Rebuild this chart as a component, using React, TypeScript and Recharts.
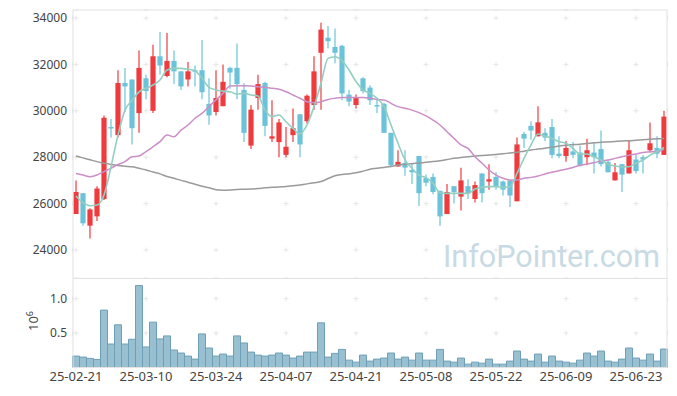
import React from 'react';
import { ComposedChart, Bar, Line, XAxis, YAxis, CartesianGrid } from 'recharts';

const dates = [
  '25-02-21', '25-02-24', '25-02-25', '25-02-26', '25-02-27', '25-02-28', '25-03-04', '25-03-05', '25-03-06', '25-03-07',
  '25-03-10', '25-03-11', '25-03-12', '25-03-13', '25-03-14', '25-03-17', '25-03-18', '25-03-19', '25-03-20', '25-03-21',
  '25-03-24', '25-03-25', '25-03-26', '25-03-27', '25-03-28', '25-03-31', '25-04-01', '25-04-02', '25-04-03', '25-04-04',
  '25-04-07', '25-04-08', '25-04-09', '25-04-10', '25-04-11', '25-04-14', '25-04-15', '25-04-16', '25-04-17', '25-04-18',
  '25-04-21', '25-04-22', '25-04-23', '25-04-24', '25-04-25', '25-04-28', '25-04-29', '25-04-30', '25-05-02', '25-05-07',
  '25-05-08', '25-05-09', '25-05-12', '25-05-13', '25-05-14', '25-05-15', '25-05-16', '25-05-19', '25-05-20', '25-05-21',
  '25-05-22', '25-05-23', '25-05-26', '25-05-27', '25-05-28', '25-05-29', '25-05-30', '25-06-02', '25-06-04', '25-06-05',
  '25-06-09', '25-06-10', '25-06-11', '25-06-12', '25-06-13', '25-06-16', '25-06-17', '25-06-18', '25-06-19', '25-06-20',
  '25-06-23', '25-06-24', '25-06-25', '25-06-26', '25-06-27',
];

const tickDates = ['25-02-21', '25-03-10', '25-03-24', '25-04-07', '25-04-21', '25-05-08', '25-05-22', '25-06-09', '25-06-23'];

const opens = [
  25550, 26450, 25050, 25450, 26200, 29300, 28950, 31200, 31350, 29900,
  31400, 30000, 32350, 31500, 32150, 31700, 31350, 31750, 31750, 30300,
  29950, 30200, 31850, 31850, 30900, 28500, 30550, 31200, 28800, 28650,
  28100, 28950, 29850, 29550, 30250, 32500, 33150, 32750, 32800, 30700,
  30250, 31400, 31000, 30250, 30300, 29050, 27600, 27750, 27450, 28050,
  27100, 27150, 26550, 25550, 26750, 26300, 26750, 26200, 27300, 26950,
  27150, 26950, 27000, 26100, 29000, 29350, 28900, 29050, 29300, 28150,
  28050, 28250, 28200, 28000, 28200, 28350, 27800, 27000, 27700, 27300,
  27900, 28000, 28300, 28400, 28100,
];
const highs = [
  27000, 26450, 25800, 26750, 29800, 29650, 31750, 31850, 31350, 32600,
  31550, 32850, 33400, 33350, 32600, 31700, 32100, 31950, 33050, 31400,
  31750, 32000, 31900, 32900, 31200, 30250, 31550, 31250, 30450, 29650,
  29300, 30100, 29850, 30700, 32350, 33800, 33650, 33550, 32850, 30900,
  30700, 31450, 31100, 30550, 30350, 29050, 28300, 28300, 27750, 28050,
  27250, 27300, 26550, 26850, 26750, 27550, 27050, 26950, 27300, 27700,
  27350, 27000, 27000, 28850, 29100, 29550, 30200, 29250, 29650, 28900,
  28700, 28650, 28500, 28800, 28650, 29150, 27900, 27750, 27700, 28700,
  28100, 28100, 29500, 28900, 30000,
];
const lows = [
  25550, 25050, 24500, 25250, 26150, 28850, 28850, 29950, 28550, 29050,
  30500, 29900, 31550, 31450, 31150, 30900, 31050, 31050, 30500, 29400,
  29800, 30200, 30950, 30500, 28650, 28350, 30050, 28900, 28650, 28000,
  28000, 28650, 28000, 29450, 30050, 30050, 32700, 32050, 30450, 30200,
  30100, 30750, 30250, 29900, 29050, 27600, 27600, 27200, 26850, 25900,
  26750, 26400, 25050, 25550, 26000, 25700, 26200, 26050, 26050, 26600,
  26600, 26350, 25850, 26100, 28400, 28750, 28900, 28700, 27950, 27950,
  27800, 27950, 27600, 27650, 27300, 27600, 27350, 27000, 26500, 27300,
  27300, 27300, 28200, 27950, 28100,
];
const closes = [
  26500, 25150, 25750, 26650, 29700, 29250, 31200, 31050, 29250, 31850,
  30850, 32350, 31950, 32150, 31700, 31050, 31700, 31700, 30800, 29800,
  30550, 31250, 31650, 31150, 29050, 30050, 31150, 29350, 28900, 29500,
  28450, 29250, 28550, 30650, 31700, 33500, 33000, 32500, 30750, 30400,
  30550, 30850, 30450, 30200, 29050, 27650, 27800, 27550, 27350, 26450,
  26900, 26500, 25450, 26500, 26500, 27000, 26450, 26800, 26450, 27050,
  26750, 26600, 26350, 28550, 28800, 29150, 29500, 28850, 28100, 28050,
  28400, 28100, 27650, 28300, 28000, 27700, 27350, 27350, 27250, 28300,
  27400, 27900, 28600, 28150, 29750,
];
const volumes = [
  166000, 151000, 132000, 117000, 834000, 341000, 620000, 341000, 410000, 1190000,
  298000, 659000, 415000, 459000, 254000, 210000, 166000, 122000, 488000, 283000,
  166000, 195000, 166000, 459000, 356000, 224000, 180000, 166000, 180000, 210000,
  180000, 137000, 166000, 224000, 224000, 649000, 151000, 205000, 263000, 107000,
  78000, 180000, 93000, 122000, 137000, 210000, 122000, 151000, 107000, 210000,
  107000, 107000, 263000, 93000, 78000, 137000, 49000, 78000, 63000, 122000,
  49000, 49000, 93000, 239000, 122000, 93000, 195000, 78000, 166000, 93000,
  78000, 63000, 107000, 210000, 166000, 239000, 93000, 78000, 122000, 283000,
  137000, 107000, 195000, 93000, 268000,
];
const ma5 = [
  26330, 26040, 25910, 25940, 26370, 27590, 28960, 30030, 30440, 30820,
  30970, 31110, 31330, 31760, 31830, 31830, 31790, 31730, 31400, 31010,
  30900, 30850, 30820, 30720, 30750, 30680, 30640, 30030, 29750, 29820,
  29530, 29240, 29000, 29390, 30180, 31180, 32260, 32330, 32160, 31760,
  31260, 30900, 30750, 30540, 30180, 29390, 28600, 27880, 27520, 27230,
  27120, 26870, 26470, 26440, 26440, 26440, 26440, 26630, 26700, 26730,
  26730, 26700, 26730, 27300, 27950, 28530, 29000, 28910, 28810, 28670,
  28600, 28380, 28140, 28140, 28020, 27880, 27710, 27620, 27590, 27590,
  27740, 27880, 28090, 28240, 28420,
];
const ma20 = [
  27300, 27230, 27160, 27230, 27380, 27520, 27690, 27810, 28020, 28050,
  28240, 28450, 28670, 28960, 28880, 29170, 29390, 29680, 29890, 30180,
  30470, 30750, 31070, 31080, 31080, 31070, 31040, 31010, 30970, 30930,
  30820, 30680, 30540, 30390, 30350, 30390, 30490, 30540, 30570, 30570,
  30570, 30570, 30540, 30490, 30470, 30320, 30180, 30110, 30030, 29920,
  29780, 29600, 29390, 29100, 28810, 28530, 28380, 28020, 27740, 27450,
  27230, 27090, 27020, 27020, 27090, 27130, 27190, 27280, 27350, 27420,
  27480, 27560, 27650, 27710, 27760, 27840, 27880, 27950, 28020, 28090,
  28140, 28200, 28240, 28240, 28340,
];
const ma60 = [
  28050, 27970, 27890, 27810, 27740, 27690, 27640, 27610, 27590, 27520,
  27450, 27360, 27280, 27170, 27090, 27000, 26920, 26830, 26750, 26680,
  26600, 26580, 26590, 26610, 26620, 26630, 26650, 26680, 26700, 26720,
  26740, 26770, 26800, 26850, 26900, 26950, 27080, 27200, 27250, 27290,
  27330, 27400, 27480, 27520, 27560, 27600, 27660, 27690, 27720, 27750,
  27780, 27810, 27850, 27900, 27950, 27990, 28020, 28050, 28070, 28100,
  28120, 28150, 28180, 28210, 28260, 28310, 28350, 28390, 28430, 28480,
  28520, 28540, 28560, 28590, 28620, 28640, 28660, 28680, 28700, 28710,
  28730, 28750, 28770, 28790, 28810,
];

const priceTicks = [24000, 26000, 28000, 30000, 32000, 34000];
const volumeTicks = [500000, 1000000];

const data = dates.map((date, i) => ({
  date,
  open: opens[i],
  high: highs[i],
  low: lows[i],
  close: closes[i],
  volume: volumes[i],
  ma5: ma5[i],
  ma20: ma20[i],
  ma60: ma60[i],
}));

const RED = '#ef3a3e';
const BLUE = '#6cc3d9';
const FONT = "'Noto Sans', sans-serif";
const tickStyle = { fontSize: 12, fill: '#444', fontFamily: FONT };

function Candle(props: any) {
  const { x, y, width, height, payload } = props;
  if (x == null || payload == null) return null;
  const { open, close, high, low } = payload;
  const top = Math.min(y, y + height);
  const h = Math.abs(height);
  const ratio = high === low ? 0 : h / (high - low);
  const yOf = (v: number) => top + (high - v) * ratio;
  const color = close >= open ? RED : BLUE;
  const cx = x + width / 2;
  const bodyTop = yOf(Math.max(open, close));
  const bodyH = Math.max(1.5, Math.abs(open - close) * ratio);
  return (
    <g>
      <line x1={cx} x2={cx} y1={top} y2={top + h} stroke={color} strokeWidth={1.2} />
      <rect x={cx - 2.6} y={bodyTop} width={5.2} height={bodyH} fill={color} />
    </g>
  );
}

export default function App() {
  return (
    <div style={{ position: 'absolute', left: 0, top: 0, width: 677, height: 396, fontFamily: FONT, background: '#fff' }}>
      <div style={{ position: 'absolute', left: 0, top: 0 }}>
        <ComposedChart width={677} height={278} data={data} margin={{ top: 10, right: 9.5, bottom: 0, left: 0 }} barCategoryGap={0}>
          <CartesianGrid vertical={false} stroke="#e6e6e6" strokeDasharray="0 1 5 64" />
          <CartesianGrid horizontal={false} stroke="#e6e6e6" strokeDasharray="0 5.5 5 35.9" />
          <XAxis dataKey="date" hide ticks={tickDates} interval={0} />
          <YAxis
            domain={[22793, 34345]}
            ticks={priceTicks}
            allowDataOverflow
            width={72.5}
            axisLine={false}
            tickLine={false}
            tickSize={0}
            tickMargin={5.5}
            tick={tickStyle}
          />
          <Line dataKey="ma60" type="monotone" stroke="#9a9a9a" strokeWidth={1.5} dot={false} isAnimationActive={false} />
          <Line dataKey="ma20" type="monotone" stroke="#cc8ec7" strokeWidth={1.5} dot={false} isAnimationActive={false} />
          <Line dataKey="ma5" type="monotone" stroke="#93cfc1" strokeWidth={1.6} dot={false} isAnimationActive={false} />
          <Bar dataKey={(d: any) => [d.low, d.high]} shape={Candle} isAnimationActive={false} />
        </ComposedChart>
      </div>
      <div style={{ position: 'absolute', left: 0, top: 278 }}>
        <ComposedChart width={677} height={118} data={data} margin={{ top: 0, right: 9.5, bottom: 0, left: 0 }} barCategoryGap={0}>
          <CartesianGrid vertical={false} stroke="#e6e6e6" strokeDasharray="0 1 5 64" />
          <CartesianGrid horizontal={false} stroke="#e6e6e6" strokeDasharray="0 18.4 5 10.9" />
          <XAxis
            dataKey="date"
            ticks={tickDates}
            interval={0}
            height={28.5}
            axisLine={false}
            tickLine={false}
            tickSize={0}
            tickMargin={4}
            tick={{ ...tickStyle, fontSize: 13 }}
          />
          <YAxis
            domain={[0, 1300000]}
            ticks={volumeTicks}
            allowDataOverflow
            width={72.5}
            axisLine={false}
            tickLine={false}
            tickSize={0}
            tickMargin={5.5}
            tick={tickStyle}
            tickFormatter={(v: number) => (v / 1000000).toFixed(1)}
          />
          <Bar dataKey="volume" fill="#98c0d0" stroke="#6e9fb6" strokeWidth={1} isAnimationActive={false} />
        </ComposedChart>
      </div>
      <svg width={677} height={396} style={{ position: 'absolute', left: 0, top: 0, pointerEvents: 'none' }}>
        <rect x={73} y={10} width={594} height={357.5} fill="none" stroke="#e2e2e2" strokeWidth={1} />
        <line x1={73} x2={667} y1={278.5} y2={278.5} stroke="#e2e2e2" strokeWidth={1} />
        <text x={443} y={266.6} fontSize={32} fontFamily="Roboto, sans-serif" fill="#c8dae3" textLength={217} lengthAdjust="spacingAndGlyphs">
          InfoPointer.com
        </text>
        <text transform="translate(38,321) rotate(-90)" textAnchor="middle" fontSize={13} fill="#444" fontFamily={FONT}>
          10<tspan dy={-5} fontSize={9}>6</tspan>
        </text>
      </svg>
    </div>
  );
}
